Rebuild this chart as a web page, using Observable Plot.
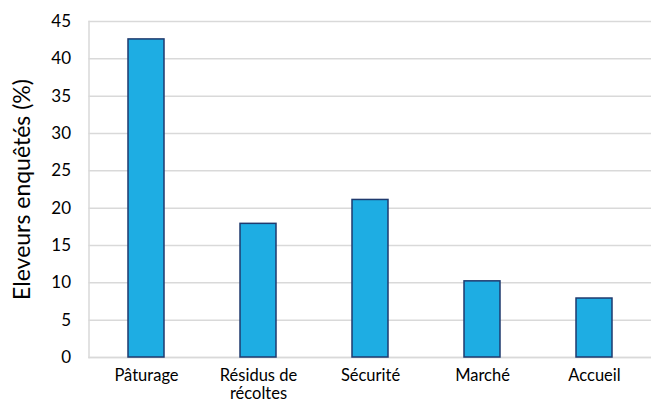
<!DOCTYPE html>
<html>
<head>
<meta charset="utf-8">
<script src="https://cdn.jsdelivr.net/npm/d3@7"></script>
<script src="https://cdn.jsdelivr.net/npm/@observablehq/plot@0.6"></script>
<style>
  html, body { margin: 0; padding: 0; background: #fff; overflow: hidden; }
  #chart svg { display: block; font-family: Lato, "Open Sans", sans-serif; }
</style>
</head>
<body>
<div id="chart"></div>
<script>
// Motifs cités par les éleveurs enquêtés (%)
const categories = ["Pâturage", "Résidus de récoltes", "Sécurité", "Marché", "Accueil"];
const values = [42.6, 17.9, 21.1, 10.2, 7.9];
const tickLabels = ["Pâturage", "Résidus de\nrécoltes", "Sécurité", "Marché", "Accueil"];
const yTicks = [0, 5, 10, 15, 20, 25, 30, 35, 40, 45];

const data = categories.map((c, i) => ({ motif: c, pct: values[i] }));
const labelOf = new Map(categories.map((c, i) => [c, tickLabels[i]]));

const chart = Plot.plot({
  width: 651,
  height: 403,
  marginTop: 21,
  marginBottom: 46,
  marginLeft: 88.5,
  marginRight: 0,
  style: { fontFamily: "Lato, 'Open Sans', sans-serif", color: "#000", background: "#fff" },
  x: { domain: categories, paddingInner: 0.68, paddingOuter: 0.34 },
  y: { domain: [0, 45] },
  marks: [
    Plot.gridY(yTicks, { stroke: "#d9d9d9", strokeOpacity: 1, strokeWidth: 1.5 }),
    Plot.frame({ anchor: "left", stroke: "#d9d9d9", strokeWidth: 1.5 }),
    Plot.ruleY([0], { stroke: "#d9d9d9", strokeWidth: 1.5 }),
    Plot.barY(data, { x: "motif", y: "pct", fill: "#1eade3", stroke: "#1f3a6e", strokeWidth: 1.5 }),
    Plot.axisY(yTicks, { tickSize: 0, tickPadding: 18, fontSize: 17, label: null }),
    Plot.axisY({ ticks: [], label: "Eleveurs enquêtés (%)", labelAnchor: "center", labelArrow: "none", labelOffset: 75, fontSize: 23 }),
    Plot.axisX({ tickSize: 0, tickPadding: 10, fontSize: 16.5, label: null, tickFormat: (d) => labelOf.get(d), lineHeight: 1.12 })
  ]
});

document.getElementById("chart").append(chart);
</script>
</body>
</html>
